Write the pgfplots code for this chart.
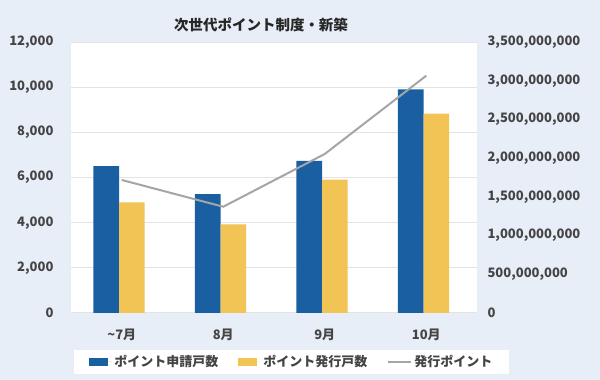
\documentclass[border=0pt]{standalone}
\usepackage{pgfplots}
\pgfplotsset{compat=1.18}
\usepackage{fontspec}
\setmainfont{Noto Sans CJK JP}
\definecolor{bg}{HTML}{E8EEF7}
\definecolor{cblue}{HTML}{1A5FA2}
\definecolor{cyellow}{HTML}{F1C455}
\definecolor{cgray}{HTML}{A5A5A5}
\definecolor{cgrid}{HTML}{E3E3E3}
\definecolor{ctext}{HTML}{444444}
\begin{document}
\begin{tikzpicture}[x=1pt,y=1pt]
\fill[bg] (0,0) rectangle (600,380);
\useasboundingbox (0,0) rectangle (600,380);
\begin{axis}[
  at={(71pt,67pt)}, anchor=south west,
  width=406pt, height=270.7pt, scale only axis,
  axis background/.style={fill=white},
  xmin=-0.5, xmax=3.5, ymin=0, ymax=12000,
  xtick={0,1,2,3},
  xticklabels={\textasciitilde 7月,8月,9月,10月},
  ytick={0,2000,...,12000},
  scaled y ticks=false,
  ymajorgrids, grid style={cgrid, line width=1pt},
  axis line style={draw=none},
  major tick length=0pt,
  /pgf/number format/assume math mode=true,
  yticklabel style={font=\bfseries\fontsize{13}{13}\selectfont, text=ctext, xshift=-14pt,
    /pgf/number format/fixed, /pgf/number format/precision=0, /pgf/number format/1000 sep={,}},
  xticklabel style={font=\bfseries\fontsize{13}{13}\selectfont, text=ctext, yshift=-12pt},
  title={次世代ポイント制度・新築},
  title style={at={(0.5,1)}, anchor=center, xshift=-13pt, yshift=11pt, font=\bfseries\fontsize{14.5}{15}\selectfont, text=black!85},
  ybar=0pt, bar width=25.6pt,
  legend columns=3,
  legend style={at={(0.5443,-0.181)}, anchor=center, draw=none, fill=white,
    font=\bfseries\fontsize{13}{13}\selectfont, text=ctext,
    inner xsep=15pt, inner ysep=4pt,
    /tikz/every even column/.append style={column sep=18pt}},
]
\addplot[fill=cblue, draw=none, bar shift=-15.5pt, legend image code/.code={\fill[cblue] (0pt,-4pt) rectangle (19pt,4pt); \path (0pt,0pt) -- (23pt,0pt);}]
  coordinates {(0,6516) (1,5275) (2,6740) (3,9915)};
\addlegendentry{ポイント申請戸数}
\addplot[fill=cyellow, draw=none, bar shift=10.1pt, legend image code/.code={\fill[cyellow] (0pt,-4pt) rectangle (19pt,4pt); \path (0pt,0pt) -- (23pt,0pt);}]
  coordinates {(0,4907) (1,3930) (2,5910) (3,8835)};
\addlegendentry{ポイント発行戸数}
\addlegendimage{draw=cgray, line width=2pt, legend image code/.code={\draw[draw=cgray, line width=2pt] (0pt,0pt) -- (20pt,0pt); \path (0pt,0pt) -- (23pt,0pt);}}
\addlegendentry{発行ポイント}
\end{axis}
\begin{axis}[
  at={(71pt,67pt)}, anchor=south west,
  width=406pt, height=270.7pt, scale only axis,
  xmin=-0.5, xmax=3.5, ymin=0, ymax=3500000000,
  axis y line*=right, axis x line=none,
  axis line style={draw=none},
  major tick length=0pt,
  ytick={0,500000000,1000000000,1500000000,2000000000,2500000000,3000000000,3500000000},
  scaled y ticks=false,
  /pgf/number format/assume math mode=true,
  yticklabel style={font=\bfseries\fontsize{13}{13}\selectfont, text=ctext, anchor=west, xshift=7pt,
    /pgf/number format/fixed, /pgf/number format/precision=0, /pgf/number format/1000 sep={,}},
]
\addplot[cgray, line width=2pt, mark=none]
  coordinates {(0,1720000000) (1,1374000000) (2,2056000000) (3,3068000000)};
\end{axis}
\end{tikzpicture}
\end{document}
